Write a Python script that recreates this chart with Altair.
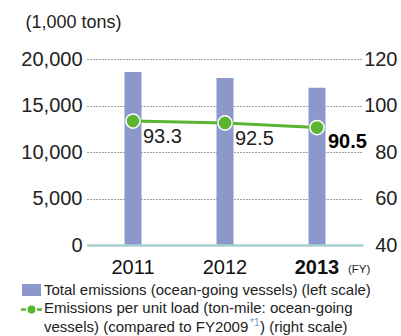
import altair as alt
import pandas as pd

# ---- data ----
years = ["2011", "2012", "2013"]
emissions = [18600, 17950, 16900]          # 1,000 tons (left scale)
per_unit = [93.3, 92.5, 90.5]              # index vs FY2009 (right scale)
left_ticks = [0, 5000, 10000, 15000, 20000]
right_ticks = [40, 60, 80, 100, 120]
legend_bar = "Total emissions (ocean-going vessels) (left scale)"
legend_line_1 = "Emissions per unit load (ton-mile: ocean-going"
legend_line_2a = "vessels) (compared to FY2009"
legend_note = "*1"
legend_line_2b = ") (right scale)"

df = pd.DataFrame({"year": years, "emissions": emissions, "per_unit": per_unit})

NUM = "Liberation Sans, Arial, Helvetica, sans-serif"
SANS = "Liberation Sans, Arial, Helvetica, sans-serif"
BAR = "#8c97cb"
GREEN = "#5cb531"
TXT = "#222222"
NUM_SIZE = 20

W, H = 276, 186
OX, OY = 87, 59  # plot origin in page coordinates

x_axis = alt.Axis(
    title=None, labelAngle=0, labelFont=NUM, labelFontSize=NUM_SIZE, labelColor="#111",
    labelBaseline="alphabetic", labelPadding=28, ticks=False,
    domainColor="#a9cfd0", domainWidth=2.5, zindex=1,
    labelFontWeight={"expr": "datum.value == '2013' ? 'bold' : 'normal'"},
)
x_enc = alt.X("year:N", scale=alt.Scale(paddingInner=0, paddingOuter=0), axis=x_axis)

bars = alt.Chart(df).mark_bar(size=17, color=BAR).encode(
    x=x_enc,
    y=alt.Y(
        "emissions:Q",
        scale=alt.Scale(domain=[0, 20000], nice=False),
        axis=alt.Axis(
            values=left_ticks, format=",.0f", title="(1,000 tons)", titleAngle=0,
            titleAlign="left", titleBaseline="alphabetic", titleX=25 - OX, titleY=27 - OY,
            titleFont=SANS, titleFontSize=18, titleFontWeight="normal", titleColor=TXT,
            labelFont=NUM, labelFontSize=NUM_SIZE, labelColor=TXT, labelPadding=5,
            domain=False, ticks=False, grid=True, gridColor="#444444",
            gridDash=[1, 2], gridWidth=1,
        ),
    ),
)

y_right = alt.Y(
    "per_unit:Q",
    scale=alt.Scale(domain=[40, 120], nice=False),
    axis=alt.Axis(
        orient="right", values=right_ticks, format=".0f", title=None, labelFont=NUM,
        labelFontSize=NUM_SIZE, labelColor=TXT, labelPadding=34, labelAlign="right",
        domain=False, ticks=False, grid=False,
    ),
)

line = alt.Chart(df).mark_line(color=GREEN, strokeWidth=3).encode(x="year:N", y=y_right)
points = alt.Chart(df).mark_circle(
    size=200, color=GREEN, stroke="white", strokeWidth=1.5, opacity=1
).encode(x="year:N", y=alt.Y("per_unit:Q"))
labels_normal = alt.Chart(df).transform_filter("datum.year != '2013'").mark_text(
    align="left", baseline="alphabetic", dx=10, dy=22, font=NUM, fontSize=NUM_SIZE, color=TXT
).encode(
    x="year:N",
    y=alt.Y("per_unit:Q"),
    text=alt.Text("per_unit:Q", format=".1f"),
)
labels_bold = alt.Chart(df).transform_filter("datum.year == '2013'").mark_text(
    align="left", baseline="alphabetic", dx=11, dy=20, font=NUM, fontSize=NUM_SIZE,
    color="#000", fontWeight="bold",
).encode(
    x="year:N",
    y=alt.Y("per_unit:Q"),
    text=alt.Text("per_unit:Q", format=".1f"),
)
right_layer = alt.layer(line, points, labels_normal, labels_bold)

one = pd.DataFrame({"a": [0]})


def txt(s, x, y, size=15, color=TXT, font=SANS, weight="normal"):
    return alt.Chart(one).mark_text(
        align="left", baseline="alphabetic", font=font, fontSize=size,
        color=color, fontWeight=weight,
    ).encode(x=alt.value(x - OX), y=alt.value(y - OY), text=alt.value(s))


fy = txt("(FY)", 348, 273, size=11.5)

leg_rect = alt.Chart(one).mark_rect(color=BAR).encode(
    x=alt.value(22 - OX), x2=alt.value(41 - OX), y=alt.value(284 - OY), y2=alt.value(296 - OY)
)
leg_dash1 = alt.Chart(one).mark_rule(color=GREEN, strokeWidth=2.5).encode(
    x=alt.value(21 - OX), x2=alt.value(26 - OX), y=alt.value(309.5 - OY)
)
leg_dash2 = alt.Chart(one).mark_rule(color=GREEN, strokeWidth=2.5).encode(
    x=alt.value(37 - OX), x2=alt.value(42 - OX), y=alt.value(309.5 - OY)
)
leg_dot = alt.Chart(one).mark_circle(size=64, color=GREEN, opacity=1).encode(
    x=alt.value(31.5 - OX), y=alt.value(309.5 - OY)
)
leg_t1 = txt(legend_bar, 44, 295)
leg_t2 = txt(legend_line_1, 44, 313)
leg_t3 = txt(legend_line_2a, 44, 331.5)
leg_t4 = txt(legend_note, 250, 326, size=10, color="#5aa0d8")
leg_t5 = txt(legend_line_2b, 260, 331.5)

chart = alt.layer(
    bars, right_layer, fy, leg_rect, leg_dash1, leg_dash2, leg_dot,
    leg_t1, leg_t2, leg_t3, leg_t4, leg_t5,
).resolve_scale(y="independent").properties(
    width=W, height=H,
    padding={"left": OX, "top": OY, "right": 401 - OX - W, "bottom": 336 - OY - H},
    autosize=alt.AutoSizeParams(type="none"),
).configure_view(stroke=None)

chart.save("out.html", embed_options={"renderer": "svg", "actions": False})
